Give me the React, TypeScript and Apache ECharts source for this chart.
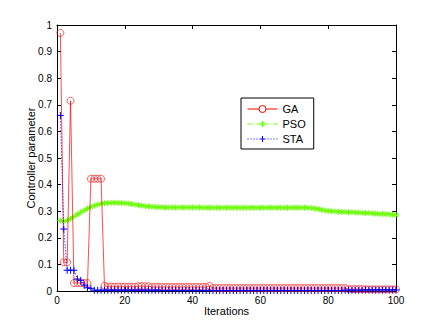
import React, { useEffect, useRef } from "react";
import * as echarts from "echarts";

const xTicks = [0, 20, 40, 60, 80, 100];
const yTicks = [0, 0.1, 0.2, 0.3, 0.4, 0.5, 0.6, 0.7, 0.8, 0.9, 1];

const gaValues = [
  0.97, 0.108, 0.108, 0.715, 0.03, 0.03, 0.03, 0.03, 0.03, 0.422,
  0.422, 0.422, 0.422, 0.02, 0.016, 0.016, 0.016, 0.016, 0.016, 0.016,
  0.016, 0.016, 0.016, 0.018, 0.018, 0.018, 0.018, 0.015, 0.015, 0.015,
  0.015, 0.015, 0.015, 0.015, 0.015, 0.015, 0.015, 0.015, 0.015, 0.015,
  0.015, 0.015, 0.015, 0.015, 0.019, 0.011, 0.011, 0.011, 0.011, 0.011,
  0.011, 0.011, 0.011, 0.011, 0.011, 0.011, 0.011, 0.011, 0.011, 0.011,
  0.011, 0.011, 0.011, 0.011, 0.011, 0.011, 0.011, 0.011, 0.011, 0.011,
  0.011, 0.011, 0.011, 0.011, 0.011, 0.011, 0.011, 0.011, 0.011, 0.011,
  0.011, 0.011, 0.011, 0.011, 0.011, 0.007, 0.007, 0.007, 0.007, 0.007,
  0.006, 0.006, 0.006, 0.006, 0.006, 0.006, 0.006, 0.006, 0.006, 0.006,
];

const psoValues = [
  0.265, 0.262, 0.265, 0.272, 0.28, 0.288, 0.296, 0.303, 0.31, 0.316,
  0.321, 0.325, 0.328, 0.33, 0.331, 0.331, 0.332, 0.331, 0.331, 0.33,
  0.329, 0.327, 0.325, 0.323, 0.321, 0.319, 0.318, 0.317, 0.316, 0.315,
  0.315, 0.314, 0.314, 0.314, 0.314, 0.314, 0.314, 0.314, 0.314, 0.314,
  0.314, 0.314, 0.313, 0.313, 0.313, 0.313, 0.313, 0.313, 0.313, 0.313,
  0.313, 0.313, 0.313, 0.313, 0.313, 0.313, 0.313, 0.313, 0.313, 0.313,
  0.313, 0.313, 0.313, 0.313, 0.313, 0.313, 0.313, 0.313, 0.313, 0.313,
  0.313, 0.313, 0.313, 0.313, 0.312, 0.31, 0.308, 0.305, 0.303, 0.301,
  0.3, 0.299, 0.298, 0.297, 0.297, 0.296, 0.296, 0.295, 0.295, 0.294,
  0.293, 0.293, 0.292, 0.291, 0.29, 0.29, 0.289, 0.288, 0.287, 0.286,
];

const staValues = [
  0.66, 0.233, 0.078, 0.078, 0.078, 0.045, 0.04, 0.022, 0.012, 0.01,
  0.003, 0.003, 0.003, 0.003, 0.003, 0.003, 0.003, 0.003, 0.003, 0.003,
  0.003, 0.003, 0.003, 0.003, 0.003, 0.003, 0.003, 0.003, 0.003, 0.003,
  0.002, 0.002, 0.002, 0.002, 0.002, 0.002, 0.002, 0.002, 0.002, 0.002,
  0.002, 0.002, 0.002, 0.002, 0.002, 0.002, 0.002, 0.002, 0.002, 0.002,
  0.002, 0.002, 0.002, 0.002, 0.002, 0.002, 0.002, 0.002, 0.002, 0.002,
  0.002, 0.002, 0.002, 0.002, 0.002, 0.002, 0.002, 0.002, 0.002, 0.002,
  0.002, 0.002, 0.002, 0.002, 0.002, 0.002, 0.002, 0.002, 0.002, 0.002,
  0.002, 0.002, 0.002, 0.002, 0.003, 0.003, 0.003, 0.003, 0.003, 0.003,
  0.004, 0.004, 0.004, 0.004, 0.004, 0.004, 0.004, 0.004, 0.004, 0.004,
];

const FONT = "'Liberation Sans', Arial, Helvetica, sans-serif";
const PLUS = "path://M5,0L5,10M0,5L10,5";
const STAR = "path://M5,0L5,10M0,5L10,5M1.5,1.5L8.5,8.5M8.5,1.5L1.5,8.5";

// legend icons (30x8 box): line sample + marker, line on a half-pixel row
const GA_ICON =
  "path://M0,0M30,8M0,4.5L11.5,4.5M18.5,4.5L30,4.5M18.5,4.5A3.5,3.5,0,1,1,11.5,4.5A3.5,3.5,0,1,1,18.5,4.5";
const PSO_ICON =
  "path://M0,0M30,8M0,4.5L4,4.5M6,4.5L7,4.5M9,4.5L12,4.5M18,4.5L21,4.5M23,4.5L24,4.5M26,4.5L30,4.5M15,1.5L15,7.5M12,4.5L18,4.5M12.9,2.4L17.1,6.6M17.1,2.4L12.9,6.6";
const STA_ICON =
  "path://M0,0M30,8M0,4.5L1,4.5M3,4.5L4,4.5M6,4.5L7,4.5M9,4.5L10,4.5M12,4.5L18,4.5M15,1.5L15,7.5M20,4.5L21,4.5M23,4.5L24,4.5M26,4.5L27,4.5M29,4.5L30,4.5";

const toPoints = (vals: number[]) => vals.map((v, i) => [i + 1, v]);

export default function App() {
  const ref = useRef<HTMLDivElement>(null);
  useEffect(() => {
    document.body.style.margin = "0";
    if (!ref.current) return;
    const chart = echarts.init(ref.current, null, { renderer: "svg" });
    const tickCommon = {
      axisTick: { show: true, inside: true, length: 4, lineStyle: { color: "#000", width: 1 } },
      axisLine: { show: true, onZero: false, lineStyle: { color: "#000", width: 1 } },
      splitLine: { show: false },
    };
    chart.setOption({
      animation: false,
      backgroundColor: "#fff",
      textStyle: { fontFamily: FONT },
      grid: { left: 57, right: 40, top: 25, bottom: 36 },
      legend: {
        orient: "vertical",
        left: 241,
        top: 98,
        padding: [4, 8, 4, 4],
        itemWidth: 30,
        itemHeight: 8,
        itemGap: 2,
        borderColor: "#000",
        borderWidth: 1,
        backgroundColor: "#fff",
        textStyle: { fontFamily: FONT, fontSize: 11, color: "#000", lineHeight: 12 },
        data: [
          {
            name: "GA",
            icon: GA_ICON,
            itemStyle: { color: "none", borderColor: "#ff0000", borderWidth: 1 },
          },
          {
            name: "PSO",
            icon: PSO_ICON,
            itemStyle: { color: "none", borderColor: "#66ff00", borderWidth: 1 },
          },
          {
            name: "STA",
            icon: STA_ICON,
            itemStyle: { color: "none", borderColor: "#0000ff", borderWidth: 1 },
          },
        ],
      },
      xAxis: [
        {
          type: "value",
          min: 0,
          max: 100,
          interval: 20,
          position: "bottom",
          name: "Iterations",
          nameLocation: "middle",
          nameGap: 14,
          nameMoveOverlap: false,
          nameTextStyle: { fontFamily: FONT, fontSize: 11, color: "#000" },
          axisLabel: { fontFamily: FONT, fontSize: 10, color: "#000", margin: 4 },
          ...tickCommon,
        },
        {
          type: "value",
          min: 0,
          max: 100,
          interval: 20,
          position: "top",
          axisLabel: { show: false },
          ...tickCommon,
        },
      ],
      yAxis: [
        {
          type: "value",
          min: 0,
          max: 1,
          interval: 0.1,
          position: "left",
          name: "Controller parameter",
          nameLocation: "middle",
          nameGap: 21,
          nameMoveOverlap: false,
          nameTextStyle: { fontFamily: FONT, fontSize: 11, color: "#000" },
          axisLabel: {
            fontFamily: FONT,
            fontSize: 10,
            color: "#000",
            margin: 5,
            formatter: (v: number) => String(Math.round(v * 10) / 10),
          },
          ...tickCommon,
        },
        {
          type: "value",
          min: 0,
          max: 1,
          interval: 0.1,
          position: "right",
          axisLabel: { show: false },
          ...tickCommon,
        },
      ],
      series: [
        {
          name: "GA",
          type: "line",
          data: toPoints(gaValues),
          symbol: "circle",
          symbolSize: 7,
          showAllSymbol: true,
          lineStyle: { color: "#ff0000", width: 0.7 },
          itemStyle: { color: "none", borderColor: "#ff2020", borderWidth: 0.7 },
          z: 3,
        },
        {
          name: "PSO",
          type: "line",
          data: toPoints(psoValues),
          symbol: STAR,
          symbolSize: 6,
          showAllSymbol: true,
          lineStyle: { color: "#66ff00", width: 1, type: [5, 2, 1, 2] },
          itemStyle: { color: "none", borderColor: "#66ff00", borderWidth: 1 },
          z: 2,
        },
        {
          name: "STA",
          type: "line",
          data: toPoints(staValues),
          symbol: PLUS,
          symbolSize: 7,
          showAllSymbol: true,
          lineStyle: { color: "#0000ff", width: 1, type: [1, 2] },
          itemStyle: { color: "none", borderColor: "#0000ff", borderWidth: 1 },
          z: 4,
        },
      ],
    });
    return () => chart.dispose();
  }, []);
  return <div ref={ref} style={{ width: 436, height: 327 }} />;
}
